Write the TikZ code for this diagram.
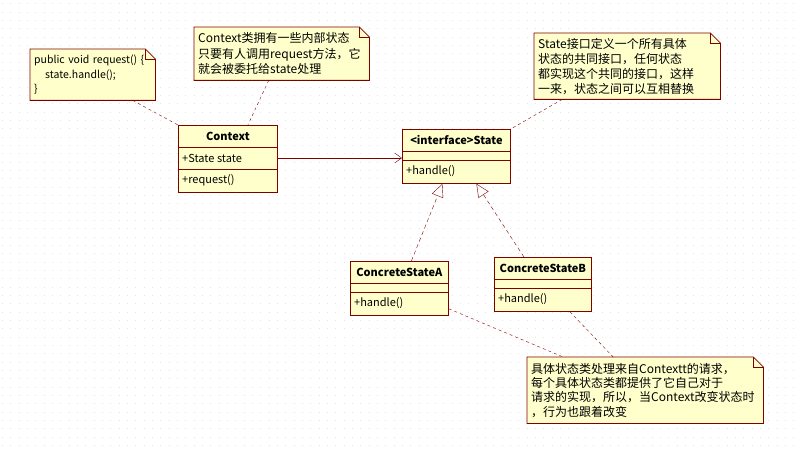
\documentclass[tikz,border=0pt]{standalone}
\usepackage{fontspec}
\setmainfont{Noto Sans CJK SC}
\usetikzlibrary{arrows.meta,calc,positioning,backgrounds}
\definecolor{umlred}{RGB}{128,0,0}
\definecolor{umlfill}{RGB}{255,255,204}
\definecolor{griddot}{RGB}{228,228,228}

\begin{document}
\begin{tikzpicture}[x=1pt, y=-1pt, every node/.style={font=\fontsize{11}{13}\selectfont},
  umlbox/.style={draw=umlred, fill=umlfill, line width=0.8pt, inner sep=0pt, anchor=north west},
  clsname/.style={font=\fontsize{11}{13}\selectfont\bfseries, inner sep=0pt},
  member/.style={inner sep=0pt, anchor=west},
  note/.style={anchor=north west, inner xsep=4pt, inner ysep=0pt, align=left},
  notetie/.style={umlred, thin, dash pattern=on 3pt off 3pt},
  realize/.style={umlred, thin, dash pattern=on 4pt off 3pt, -{Triangle[open, length=13pt, width=12pt]}},
  assoc/.style={umlred, thin, -{Straight Barb[length=7pt, width=10pt]}}]
  \useasboundingbox (0,0) rectangle (800,449);
  % classes
  \node[umlbox, minimum width=99pt, minimum height=67pt] (context) at (178,125) {};
  \node[umlbox, minimum width=108pt, minimum height=54pt] (state) at (402,129) {};
  \node[umlbox, minimum width=98pt, minimum height=54pt] (concrete-a) at (350,261) {};
  \node[umlbox, minimum width=97pt, minimum height=54pt] (concrete-b) at (494,257) {};
  \draw[umlred, line width=0.8pt] ([yshift=-22pt]context.north west) -- ([yshift=-22pt]context.north east);
  \draw[umlred, line width=0.8pt] ([yshift=-44pt]context.north west) -- ([yshift=-44pt]context.north east);
  \foreach \c in {state,concrete-a,concrete-b}{
    \draw[umlred, line width=0.8pt] ([yshift=-22pt]\c.north west) -- ([yshift=-22pt]\c.north east);
    \draw[umlred, line width=0.8pt] ([yshift=-31pt]\c.north west) -- ([yshift=-31pt]\c.north east);
  }
  \node[clsname] (context-name) at ([yshift=-11pt]context.north) {Context};
  \node[member] (context-attr) at ([xshift=4pt, yshift=-33pt]context.north west) {+State state};
  \node[member] (context-op) at ([xshift=4pt, yshift=-55pt]context.north west) {+request()};
  \node[clsname] (state-name) at ([yshift=-11pt]state.north) {<interface>State};
  \node[member] (state-op) at ([xshift=4pt, yshift=-42.5pt]state.north west) {+handle()};
  \node[clsname] (concrete-a-name) at ([yshift=-11pt]concrete-a.north) {ConcreteStateA};
  \node[member] (concrete-a-op) at ([xshift=4pt, yshift=-42.5pt]concrete-a.north west) {+handle()};
  \node[clsname] (concrete-b-name) at ([yshift=-11pt]concrete-b.north) {ConcreteStateB};
  \node[member] (concrete-b-op) at ([xshift=4pt, yshift=-42.5pt]concrete-b.north west) {+handle()};
  % notes
  \node[note, text width=117pt, minimum height=51pt, font=\fontsize{10.5}{14.5}\selectfont] (note-request) at (30,49)
    {public void request() \{\\\hspace*{11pt}state.handle();\\\}};
  \node[note, text width=167pt, minimum height=53pt, font=\fontsize{12}{15.5}\selectfont] (note-context) at (194,27)
    {Context类拥有一些内部状态\\只要有人调用request方法，它\\就会被委托给state处理};
  \node[note, text width=178pt, minimum height=66pt, font=\fontsize{12}{15}\selectfont] (note-state) at (534,33)
    {State接口定义一个所有具体\\状态的共同接口，任何状态\\都实现这个共同的接口，这样\\一来，状态之间可以互相替换};
  \node[note, text width=228pt, minimum height=66pt, font=\fontsize{12}{14.3}\selectfont] (note-concrete) at (527,357)
    {具体状态类处理来自Contextt的请求，\\每个具体状态类都提供了它自己对于\\请求的实现，所以，当Context改变状态时\\，行为也跟着改变};
  \begin{scope}[on background layer]
    % dotted grid of the canvas
    \foreach \y in {4,12.33,...,449}{
      \draw[griddot, line width=1pt, dash pattern=on 1pt off 7.33pt] (2,\y) -- (800,\y);
    }
    \foreach \n in {note-request,note-context,note-state,note-concrete}{
      \filldraw[draw=umlred, fill=umlfill, line width=0.8pt] (\n.north west) -- ([xshift=-10pt]\n.north east)
        -- ([yshift=-10pt]\n.north east) -- (\n.south east) -- (\n.south west) -- cycle;
      \draw[umlred, line width=0.8pt] ([xshift=-10pt]\n.north east) -- ([xshift=-10pt, yshift=-10pt]\n.north east)
        -- ([yshift=-10pt]\n.north east);
    }
  \end{scope}
  % connectors
  \draw[assoc] (context-attr -| context.east) -- (context-attr -| state.west);
  \draw[realize] ([xshift=12pt]concrete-a.north) -- ([xshift=-14pt]state.south);
  \draw[realize] ([xshift=-19pt]concrete-b.north) -- ([xshift=20pt]state.south);
  \draw[notetie] ([xshift=40pt]note-request.south) -- (context.north west);
  \draw[notetie] ([xshift=-13pt]note-context.south) -- ([xshift=20pt]context.north);
  \draw[notetie] ([xshift=-65pt]note-state.south) -- (state.north east);
  \draw[notetie] ([yshift=7pt]concrete-a.south east) -- ([xshift=-82pt]note-concrete.north);
  \draw[notetie] ([xshift=27pt]concrete-b.south) -- ([xshift=-32pt]note-concrete.north);
\end{tikzpicture}
\end{document}
